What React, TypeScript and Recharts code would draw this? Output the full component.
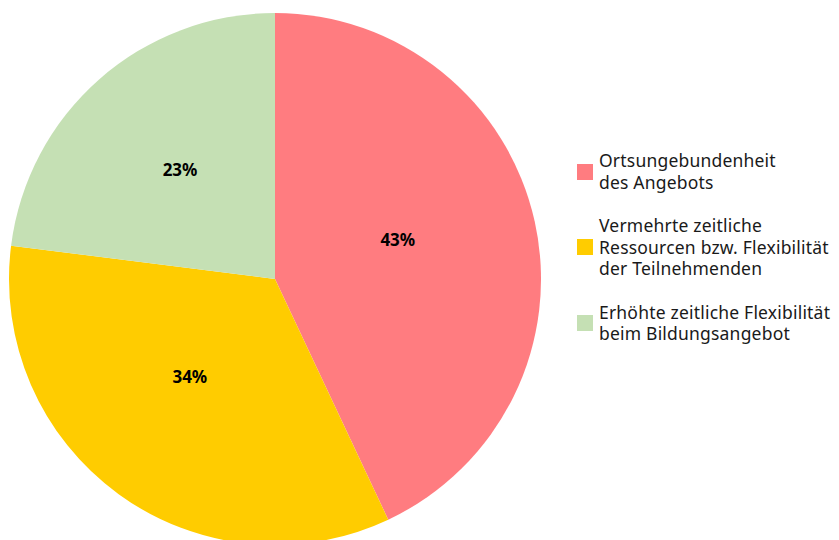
import { PieChart, Pie, Cell, Legend } from "recharts"

const categories = [
  "Ortsungebundenheit\ndes Angebots",
  "Vermehrte zeitliche\nRessourcen bzw. Flexibilität\nder Teilnehmenden",
  "Erhöhte zeitliche Flexibilität\nbeim Bildungsangebot",
]
const shares = [43, 34, 23]
const colors = ["#FF7C80", "#FFCC00", "#C5E0B4"]

const data = categories.map((name, i) => ({ name, value: shares[i], color: colors[i] }))

const FONT = "'Noto Sans', sans-serif"
const RAD = Math.PI / 180

const renderLabel = (props: any) => {
  const { cx, cy, midAngle, outerRadius, value } = props
  const r = outerRadius * 0.5
  // labels sit a little up-left of the radial midpoint in the original
  const x = cx + r * Math.cos(-midAngle * RAD) - 7
  const y = cy + r * Math.sin(-midAngle * RAD) - 10
  return (
    <text x={x} y={y} textAnchor="middle" dominantBaseline="central"
      fontFamily={FONT} fontSize={17} fontWeight="bold" fill="#000">
      {`${value}%`}
    </text>
  )
}

const renderLegend = () => (
  <div style={{ fontFamily: FONT, fontSize: 17.5, color: "#1a1a1a", lineHeight: "21.5px", letterSpacing: 0.2 }}>
    {data.map((d) => (
      <div key={d.name} style={{ display: "flex", alignItems: "center", marginBottom: 22 }}>
        <span style={{ width: 16, height: 16, background: d.color, marginRight: 6, flexShrink: 0 }} />
        <span style={{ whiteSpace: "pre" }}>{d.name}</span>
      </div>
    ))}
  </div>
)

export default function App() {
  return (
    <div style={{ position: "absolute", left: 0, top: 0 }}>
      <PieChart width={839} height={540} margin={{ top: 0, right: 0, bottom: 0, left: 0 }}>
        <Pie
          data={data}
          dataKey="value"
          cx={275}
          cy={279}
          outerRadius={266}
          startAngle={90}
          endAngle={-270}
          stroke="none"
          label={renderLabel}
          labelLine={false}
          isAnimationActive={false}
        >
          {data.map((d, i) => (
            <Cell key={`cell-${i}`} fill={d.color} />
          ))}
        </Pie>
        <Legend
          content={renderLegend}
          wrapperStyle={{ left: 577, top: 150, width: 262 }}
        />
      </PieChart>
    </div>
  )
}
